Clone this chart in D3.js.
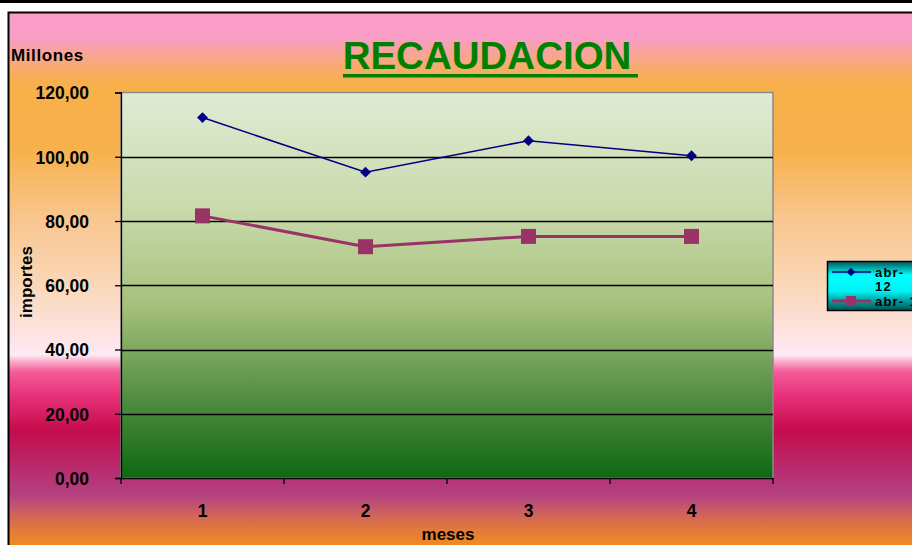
<!DOCTYPE html>
<html>
<head>
<meta charset="utf-8">
<script src="https://cdn.jsdelivr.net/npm/d3@7"></script>
<style>
html,body{margin:0;padding:0;background:#fff;overflow:hidden;}
svg{display:block;font-family:Arial,"Liberation Sans",sans-serif;}
</style>
</head>
<body>
<svg id="c" width="912" height="545"></svg>
<script>
const categories = ["1", "2", "3", "4"];
const seriesNames = ["abr-12", "abr-13"];
const serie1 = [112.2, 95.2, 105.0, 100.3];
const serie2 = [81.6, 72.0, 75.2, 75.2];
const yTicks = [0, 20, 40, 60, 80, 100, 120];
const title = "RECAUDACION";
const yUnit = "Millones";
const yTitle = "importes";
const xTitle = "meses";

const svg = d3.select("#c");
const defs = svg.append("defs");

// top black bar
svg.append("rect").attr("x",0).attr("y",0).attr("width",912).attr("height",3).attr("fill","#000");

// background gradient
const bg = defs.append("linearGradient").attr("id","bg").attr("gradientUnits","userSpaceOnUse")
  .attr("x1",0).attr("x2",0).attr("y1",12).attr("y2",545);
const bgStops = [[12,"#FA9CC9"],[38,"#F99DC6"],[70,"#F7AC66"],[85,"#F7B04A"],[150,"#F7B14C"],[220,"#F9C690"],
  [290,"#FBD9BC"],[345,"#FDE6EC"],[355,"#FDEAF3"],[361,"#FAB0CF"],[372,"#F45B98"],[395,"#E8327A"],
  [430,"#C50C4C"],[465,"#B9286A"],[495,"#B34282"],[515,"#D1645A"],[530,"#E27A3A"],[545,"#F08B22"]];
bgStops.forEach(s=>bg.append("stop").attr("offset",((s[0]-12)/(545-12))).attr("stop-color",s[1]));

svg.append("rect").attr("x",8.5).attr("y",12.5).attr("width",920).attr("height",560)
  .attr("fill","url(#bg)").attr("stroke","#000").attr("stroke-width",2);

// plot area
const L = 121, R = 773, T = 92.5, B = 478;
const x = d3.scaleBand().domain(categories).range([L, R]);
const y = d3.scaleLinear().domain([0, 120]).range([B, T]);

const pg = defs.append("linearGradient").attr("id","pg").attr("x1",0).attr("x2",0).attr("y1",0).attr("y2",1);
[[0,"#E0EBD4"],[0.3,"#C9DAAC"],[0.55,"#A6C17C"],[0.8,"#4F8C40"],[1,"#0E6812"]]
  .forEach(s=>pg.append("stop").attr("offset",s[0]).attr("stop-color",s[1]));

svg.append("rect").attr("x",L).attr("y",T).attr("width",R-L).attr("height",B-T)
  .attr("fill","url(#pg)").attr("stroke","#8a8a8a").attr("stroke-width",1.5);

// gridlines
svg.append("g").selectAll("line").data(yTicks.filter(d=>d>0 && d<120)).join("line")
  .attr("x1",L).attr("x2",R).attr("y1",d=>Math.round(y(d))+0.5).attr("y2",d=>Math.round(y(d))+0.5)
  .attr("stroke","#000").attr("stroke-width",1.3);

// y axis
const yAxis = d3.axisLeft(y).tickValues(yTicks).tickSize(6).tickPadding(26)
  .tickFormat(d=>d3.format(".2f")(d).replace(".", ","));
const gy = svg.append("g").attr("transform",`translate(${L},0)`).call(yAxis);
gy.select(".domain").attr("stroke","#000").attr("stroke-width",1.3);
gy.selectAll(".tick line").attr("stroke","#000").attr("stroke-width",1.3);
gy.selectAll(".tick text").attr("font-size",17.5).attr("font-weight","bold").attr("fill","#000")
  .attr("font-family","Arial,'Liberation Sans',sans-serif").attr("dy","0.36em");

// x axis
const xAxis = d3.axisBottom(x).tickSize(0).tickPadding(27);
const gx = svg.append("g").attr("transform",`translate(0,${B})`).call(xAxis);
gx.select(".domain").attr("stroke","#000").attr("stroke-width",1.5);
gx.selectAll(".tick text").attr("font-size",17.5).attr("font-weight","bold").attr("fill","#000")
  .attr("font-family","Arial,'Liberation Sans',sans-serif");
// x ticks between categories
const bounds = categories.map(c=>x(c)).concat([R]);
gx.append("g").selectAll("line").data(bounds).join("line")
  .attr("x1",d=>d).attr("x2",d=>d).attr("y1",0).attr("y2",6).attr("stroke","#000").attr("stroke-width",1.3);

// lines
const cx = c => x(c) + x.bandwidth()/2;
const line = d3.line().x((d,i)=>cx(categories[i])).y(d=>y(d));
svg.append("path").datum(serie2).attr("d",line).attr("fill","none").attr("stroke","#993366").attr("stroke-width",3);
svg.append("path").datum(serie1).attr("d",line).attr("fill","none").attr("stroke","#000080").attr("stroke-width",1.6);

svg.append("g").selectAll("rect").data(serie2).join("rect")
  .attr("x",(d,i)=>cx(categories[i])-7.5).attr("y",d=>y(d)-7.5).attr("width",15).attr("height",15)
  .attr("fill","#993366");
const diamond = d3.symbol().type(d3.symbolDiamond2).size(75);
svg.append("g").selectAll("path").data(serie1).join("path")
  .attr("d",diamond).attr("transform",(d,i)=>`translate(${cx(categories[i])},${y(d)})`)
  .attr("fill","#000080");

// title
svg.append("text").attr("x",487).attr("y",69).attr("text-anchor","middle")
  .attr("font-size",38.5).attr("font-weight","bold").attr("fill","#008000").text(title);
svg.append("rect").attr("x",343).attr("y",74).attr("width",295).attr("height",3.5).attr("fill","#008000");

svg.append("text").attr("x",11).attr("y",61).attr("font-size",17).attr("font-weight","bold")
  .attr("letter-spacing","0.6").attr("fill","#000").text(yUnit);

svg.append("text").attr("transform","translate(32,282) rotate(-90)").attr("text-anchor","middle")
  .attr("font-size",17).attr("font-weight","bold").attr("fill","#000").text(yTitle);

svg.append("text").attr("x",448).attr("y",540).attr("text-anchor","middle")
  .attr("font-size",17).attr("font-weight","bold").attr("fill","#000").text(xTitle);

// legend
const lg = defs.append("linearGradient").attr("id","lg").attr("x1",0).attr("x2",0).attr("y1",0).attr("y2",1);
[[0,"#005858"],[0.28,"#00FFFF"],[0.6,"#00F4F4"],[1,"#005050"]]
  .forEach(s=>lg.append("stop").attr("offset",s[0]).attr("stop-color",s[1]));
svg.append("rect").attr("x",827.5).attr("y",261.5).attr("width",100).attr("height",49)
  .attr("fill","url(#lg)").attr("stroke","#000").attr("stroke-width",1.5);
const leg = svg.append("g");
leg.append("line").attr("x1",832).attr("x2",871).attr("y1",272).attr("y2",272).attr("stroke","#000080").attr("stroke-width",1.5);
leg.append("path").attr("d",d3.symbol().type(d3.symbolDiamond2).size(45)).attr("transform","translate(851,272)").attr("fill","#000080");
leg.append("line").attr("x1",832).attr("x2",871).attr("y1",301).attr("y2",301).attr("stroke","#993366").attr("stroke-width",3);
leg.append("rect").attr("x",846).attr("y",296).attr("width",10).attr("height",10).attr("fill","#993366");
const lt = {"font-size":13,"font-weight":"bold","fill":"#000","letter-spacing":"1.2"};
leg.append("text").attr("x",875).attr("y",276.5).text(seriesNames[0].slice(0,4));
leg.append("text").attr("x",875).attr("y",290.5).text(seriesNames[0].slice(4));
leg.append("text").attr("x",875).attr("y",305.5).text(seriesNames[1].replace("-","- "));
leg.selectAll("text").each(function(){ const s=d3.select(this); for (const k in lt) s.attr(k,lt[k]); });
</script>
</body>
</html>
